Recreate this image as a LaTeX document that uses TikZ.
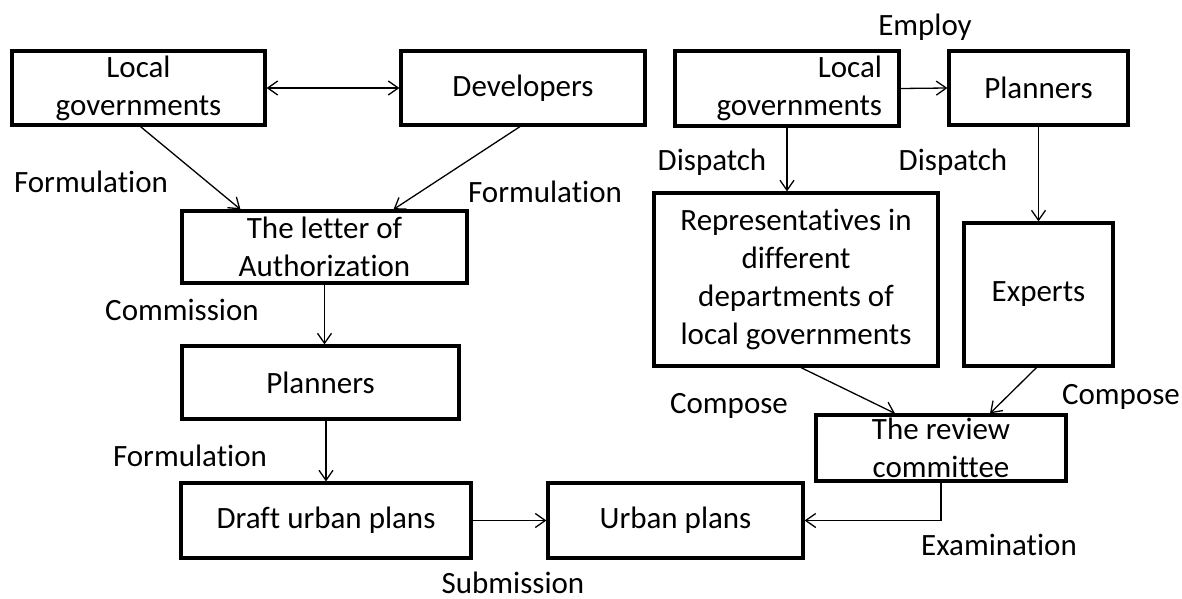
\documentclass[tikz,border=0pt]{standalone}
\usepackage{fontspec}
\setmainfont{Carlito}[Ligatures=NoCommon]
\usetikzlibrary{arrows.meta}
\begin{document}
\begin{tikzpicture}[x=1pt,y=-1pt,
  >={Straight Barb[length=10pt,width=14pt]},
  txt/.style={font=\fontsize{31}{38}\selectfont},
  box/.style={txt, draw, line width=3.2pt, inner sep=0pt, align=center},
  lbl/.style={txt, anchor=base, inner sep=0pt},
  link/.style={line width=1.3pt, ->},
]
\useasboundingbox (0,0) rectangle (1182,599);

% left branch: formulation of the draft plan
\node[box, minimum width=253pt, minimum height=74pt] (lg1) at (138.5,88) {Local\\governments};
\node[box, minimum width=244pt, minimum height=74pt] (dev) at (523,88) {Developers};
\node[box, minimum width=285pt, minimum height=72pt] (letter) at (324.5,247) {The letter of\\Authorization};
\node[box, minimum width=277pt, minimum height=73pt] (pl1) at (320.5,382.5) {Planners};
\node[box, minimum width=290pt, minimum height=75pt] (draft) at (326,520.5) {Draft urban plans};
\node[box, minimum width=255pt, minimum height=75pt] (urban) at (675.5,520.5) {Urban plans};

% right branch: the review committee
\node[box, minimum width=224pt, minimum height=75pt, text width=190pt, align=right] (lg2) at (787,88.5) {Local\\governments\hspace*{9pt}};
\node[box, minimum width=179pt, minimum height=74pt] (pl2) at (1038.5,88) {Planners};
\node[box, minimum width=284pt, minimum height=173pt] (rep) at (796,279.5) {Representatives in\\different\\departments of\\local governments};
\node[box, minimum width=149pt, minimum height=143pt] (exp) at (1038.5,294.5) {Experts};
\node[box, minimum width=250pt, minimum height=66pt] (rev) at (941,448) {The review\\committee};

% connectors
\draw[link, <->] (lg1.east) -- (dev.west);
\draw[link] ([xshift=2pt]lg1.south) -- ([xshift=-84pt]letter.north);
\draw[link] ([xshift=-3pt]dev.south) -- ([xshift=69pt]letter.north);
\draw[link] (letter.south) -- (letter.south |- pl1.north);
\draw[link] (pl1.south -| draft.north) -- (draft.north);
\draw[link] (draft.east) -- (urban.west);
\draw[link] (rev.south) -- (rev.south |- urban.east) -- (urban.east);
\draw[link] (lg2.east) -- (pl2.west);
\draw[link] (lg2.south) -- (lg2.south |- rep.north);
\draw[link] (pl2.south) -- (exp.north);
\draw[link] ([xshift=5pt]rep.south) -- ([xshift=-46pt]rev.north);
\draw[link] ([xshift=-2pt]exp.south) -- ([xshift=49pt]rev.north);

% connector labels
\node[lbl] (fl1) at (91,192) {Formulation};
\node[lbl] (fl2) at (545,202) {Formulation};
\node[lbl] (com) at (182,320) {Commission};
\node[lbl] (fl3) at (190,466) {Formulation};
\node[lbl] (sub) at (513,593) {Submission};
\node[lbl] (emp) at (925,36) {Employ};
\node[lbl] (dis1) at (712,170) {Dispatch};
\node[lbl] (dis2) at (953,170) {Dispatch};
\node[lbl] (cmp1) at (729,413) {Compose};
\node[lbl] (cmp2) at (1121,404) {Compose};
\node[lbl] (exa) at (999,555) {Examination};
\end{tikzpicture}
\end{document}
